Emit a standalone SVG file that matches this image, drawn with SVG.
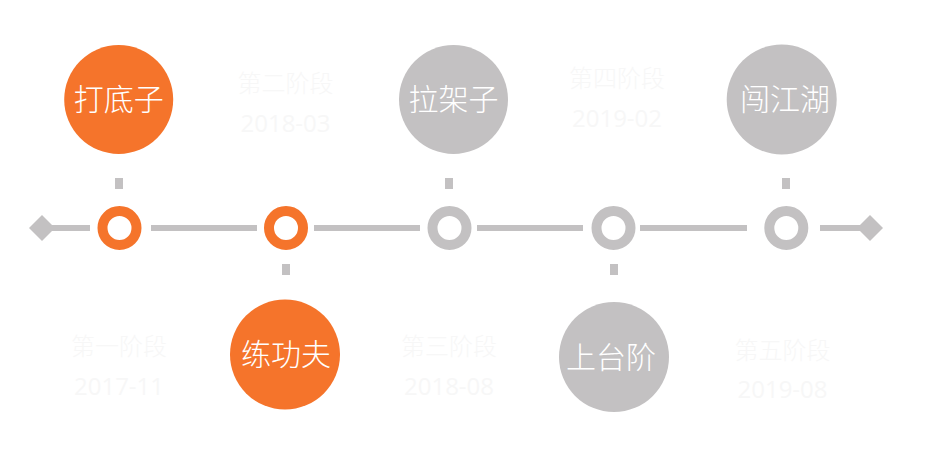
<svg xmlns="http://www.w3.org/2000/svg" width="930" height="455" viewBox="0 0 930 455">
<style>
.bg{fill:#ffffff}
.line{fill:#c3c1c2}
.ringO{fill:none;stroke:#f5742b;stroke-width:10}
.ringG{fill:none;stroke:#c3c1c2;stroke-width:10}
.tick{fill:#c3c1c2}
.bigO{fill:#f5742b}
.bigG{fill:#c3c1c2}
.big{font-family:"Noto Sans CJK SC","Noto Sans",sans-serif;font-size:30px;font-weight:300;fill:#ffffff;text-anchor:middle}
.lab{font-family:"Noto Sans CJK SC","Noto Sans",sans-serif;font-size:24px;font-weight:300;fill:#f7f7f7;text-anchor:middle}
.date{font-family:"Open Sans","Noto Sans",sans-serif;font-size:24px;fill:#f7f7f7;text-anchor:middle}
</style>
<rect class="bg" x="0" y="0" width="930" height="455"/>
<g id="connectors">
<polygon class="line" points="29,228 42,215 55,228 42,241"/>
<rect class="line" x="42" y="225" width="48" height="6"/>
<rect class="line" x="151" y="225" width="106" height="6"/>
<rect class="line" x="314" y="225" width="106" height="6"/>
<rect class="line" x="477" y="225" width="106" height="6"/>
<rect class="line" x="640" y="225" width="107" height="6"/>
<rect class="line" x="820" y="225" width="50" height="6"/>
<polygon class="line" points="857,228 870,215 883,228 870,241"/>
<rect class="tick" x="115" y="178" width="8" height="11"/>
<rect class="tick" x="282" y="264" width="8" height="11"/>
<rect class="tick" x="445" y="178" width="8" height="11"/>
<rect class="tick" x="610" y="264" width="8" height="11"/>
<rect class="tick" x="782" y="178" width="8" height="11"/>
</g>
<g id="stage1">
<circle class="ringO" cx="119.5" cy="228" r="17"/>
<circle class="bigO" cx="118.7" cy="99.5" r="54.5"/>
<text class="big" x="118.7" y="110">打底子</text>
<text class="lab" x="119" y="355">第一阶段</text>
<text class="date" x="119" y="395">2017-11</text>
</g>
<g id="stage2">
<circle class="ringO" cx="286" cy="228" r="17"/>
<circle class="bigO" cx="285" cy="354.5" r="55"/>
<text class="big" x="286" y="365">练功夫</text>
<text class="lab" x="285.5" y="92">第二阶段</text>
<text class="date" x="285.5" y="132">2018-03</text>
</g>
<g id="stage3">
<circle class="ringG" cx="449.5" cy="228" r="17"/>
<circle class="bigG" cx="453.5" cy="99.5" r="54.5"/>
<text class="big" x="453.5" y="110">拉架子</text>
<text class="lab" x="449" y="355">第三阶段</text>
<text class="date" x="449" y="395">2018-08</text>
</g>
<g id="stage4">
<circle class="ringG" cx="613.5" cy="228" r="17"/>
<circle class="bigG" cx="614" cy="357" r="55"/>
<text class="big" x="611" y="368">上台阶</text>
<text class="lab" x="617" y="87">第四阶段</text>
<text class="date" x="617" y="127">2019-02</text>
</g>
<g id="stage5">
<circle class="ringG" cx="786.3" cy="228" r="17"/>
<circle class="bigG" cx="781.7" cy="99.5" r="55"/>
<text class="big" x="785" y="110">闯江湖</text>
<text class="lab" x="782.5" y="359">第五阶段</text>
<text class="date" x="782.5" y="398">2019-08</text>
</g>
</svg>
